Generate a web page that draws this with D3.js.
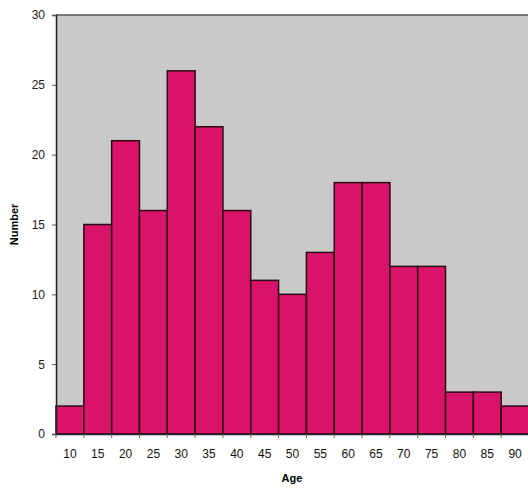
<!DOCTYPE html>
<html>
<head>
<meta charset="utf-8">
<script src="https://cdn.jsdelivr.net/npm/d3@7"></script>
<style>
  body { margin: 0; background: #fff; }
  svg { display: block; font-family: "Liberation Sans", Arial, sans-serif; }
</style>
</head>
<body>
<div id="vis"></div>
<script>
// Datos
const AGES = [10, 15, 20, 25, 30, 35, 40, 45, 50, 55, 60, 65, 70, 75, 80, 85, 90];
const COUNTS = [2, 15, 21, 16, 26, 22, 16, 11, 10, 13, 18, 18, 12, 12, 3, 3, 2];
const Y_TICKS = [0, 5, 10, 15, 20, 25, 30];

const WIDTH = 528;
const HEIGHT = 491;
const MARGIN = { top: 15, right: -1, bottom: 57, left: 56 };

const SVG = d3.select("#vis").append("svg")
    .attr("width", WIDTH).attr("height", HEIGHT);

const x = d3.scaleBand()
    .domain(AGES)
    .range([MARGIN.left, WIDTH - MARGIN.right])
    .padding(0);

const y = d3.scaleLinear()
    .domain([0, 30])
    .range([HEIGHT - MARGIN.bottom, MARGIN.top]);

// fondo gris
SVG.append("rect")
    .attr("x", MARGIN.left).attr("y", MARGIN.top)
    .attr("width", WIDTH - MARGIN.right - MARGIN.left)
    .attr("height", y(0) - MARGIN.top)
    .attr("fill", "#c9c9c9");

// borde superior
SVG.append("line")
    .attr("x1", MARGIN.left).attr("x2", WIDTH)
    .attr("y1", MARGIN.top).attr("y2", MARGIN.top)
    .attr("stroke", "#555").attr("stroke-width", 1.5);

// barras
SVG.append("g").selectAll("rect")
    .data(AGES.map((a, i) => ({ age: a, n: COUNTS[i] })))
    .join("rect")
    .attr("x", d => x(d.age))
    .attr("y", d => y(d.n))
    .attr("width", x.bandwidth())
    .attr("height", d => y(0) - y(d.n))
    .attr("fill", "#d9136a")
    .attr("stroke", "#2a0a14")
    .attr("stroke-width", 1.5);

// eje Y
const yAxis = SVG.append("g")
    .attr("transform", `translate(${MARGIN.left}, 0)`)
    .call(d3.axisLeft(y).tickValues(Y_TICKS).tickSize(4).tickPadding(7));
yAxis.select(".domain").attr("stroke", "#222").attr("stroke-width", 1.5);
yAxis.selectAll(".tick line").attr("stroke", "#555");
yAxis.selectAll("text").attr("font-size", 12).attr("fill", "#222");

// eje X: ticks en los bordes de las barras
const xAxis = SVG.append("g")
    .attr("transform", `translate(0, ${y(0)})`)
    .call(d3.axisBottom(x).tickSize(0).tickPadding(15));
xAxis.select(".domain").attr("stroke", "#222").attr("stroke-width", 1.5);
xAxis.selectAll("text").attr("font-size", 12).attr("fill", "#111");

SVG.append("g").selectAll("line")
    .data(AGES)
    .join("line")
    .attr("x1", d => x(d)).attr("x2", d => x(d))
    .attr("y1", y(0)).attr("y2", y(0) + 4)
    .attr("stroke", "#666");

// titulos
SVG.append("text")
    .attr("x", (MARGIN.left + WIDTH) / 2)
    .attr("y", 482)
    .attr("text-anchor", "middle")
    .attr("font-size", 11).attr("font-weight", "bold")
    .text("Age");

SVG.append("text")
    .attr("transform", `translate(18, ${(MARGIN.top + y(0)) / 2}) rotate(-90)`)
    .attr("text-anchor", "middle")
    .attr("font-size", 11).attr("font-weight", "bold")
    .text("Number");
</script>
</body>
</html>
